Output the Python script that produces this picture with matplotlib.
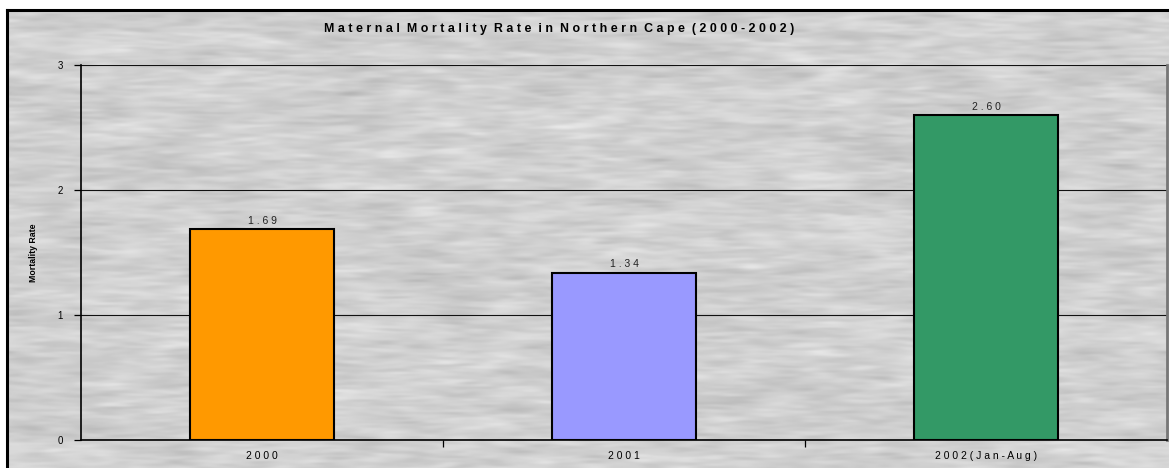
import numpy as np
import matplotlib
matplotlib.use("Agg")
import matplotlib.pyplot as plt

plt.rcParams["font.family"] = ["Liberation Sans", "DejaVu Sans"]

# data
categories = ["2000", "2001", "2002(Jan-Aug)"]
rates = [1.69, 1.34, 2.60]
bar_colors = ["#FF9900", "#9999FF", "#339966"]
y_ticks = [0, 1, 2, 3]
title = "Maternal Mortality Rate in Northern Cape (2000-2002)"


def spaced(s):
    # old spreadsheet look: wide character spacing
    return " ".join(s)


def marble(h, w, seed=3):
    # soft grey streaky texture for the chart background
    rng = np.random.default_rng(seed)
    n = rng.normal(size=(h, w))
    fy = np.fft.fftfreq(h)[:, None]
    fx = np.fft.fftfreq(w)[None, :]
    k = np.exp(-((fx * 35.0) ** 2 + (fy * 5.0) ** 2))
    k2 = np.exp(-((fx * 90.0) ** 2 + (fy * 20.0) ** 2))
    a = np.real(np.fft.ifft2(np.fft.fft2(n) * k))
    b = np.real(np.fft.ifft2(np.fft.fft2(n) * k2))
    a /= a.std()
    b /= b.std()
    return 0.815 + 0.016 * a + 0.010 * b


fig = plt.figure(figsize=(11.69, 4.68), dpi=100)
W, H = 1169, 468

bg = fig.add_axes([7 / W, 0, 1 - 7 / W, 1 - 10 / H])
tex = marble(458, 1162)
bg.imshow(tex, cmap="gray", vmin=0, vmax=1, aspect="auto", interpolation="bilinear")
bg.set_axis_off()

# frame around the chart area
fig.add_artist(plt.Line2D([7 / W, 7 / W], [0, 1 - 10 / H], color="black", lw=2.2,
                          transform=fig.transFigure))
fig.add_artist(plt.Line2D([7 / W, 1], [1 - 10 / H, 1 - 10 / H], color="black", lw=2.2,
                          transform=fig.transFigure))

ax = fig.add_axes([81 / W, (H - 440) / H, (1167 - 81) / W, (440 - 65) / H])
ax.set_facecolor("none")

x = np.arange(len(categories))
ax.bar(x, rates, width=0.4, color=bar_colors, edgecolor="black", linewidth=1.5, zorder=3)
for xi, v in zip(x, rates):
    ax.text(xi, v + 0.025, spaced(f"{v:.2f}"), ha="center", va="bottom", fontsize=7.5,
            color="#222222")

ax.set_xlim(-0.5, 2.5)
ax.set_ylim(0, 3)
ax.set_yticks(y_ticks)
ax.set_yticklabels([str(t) for t in y_ticks], fontsize=7)
ax.yaxis.grid(True, color="#111111", linewidth=0.8)
ax.set_axisbelow(True)

# category labels between boundary ticks
ax.set_xticks([0.5, 1.5])
ax.set_xticklabels([])
ax.set_xticks(x, minor=True)
ax.set_xticklabels([spaced(c) for c in categories], minor=True, fontsize=7.5)
ax.tick_params(axis="x", which="minor", length=0, pad=8)
ax.tick_params(axis="x", which="major", length=5, width=0.9, direction="out")
ax.tick_params(axis="y", length=5, width=0.9, pad=8)

ax.set_ylabel("Mortality Rate", fontsize=6.3, fontweight="bold", labelpad=14)

for side in ["left", "bottom"]:
    ax.spines[side].set_color("black")
    ax.spines[side].set_linewidth(1.2)
ax.spines["top"].set_visible(False)
ax.spines["right"].set_color("#777777")
ax.spines["right"].set_linewidth(2)

fig.text((328 + 790) / 2 / W, 1 - 29 / H, spaced(title).replace("   ", "  "),
         ha="center", va="center", fontsize=8.9, fontweight="bold")

fig.savefig("out.png", dpi=100)
